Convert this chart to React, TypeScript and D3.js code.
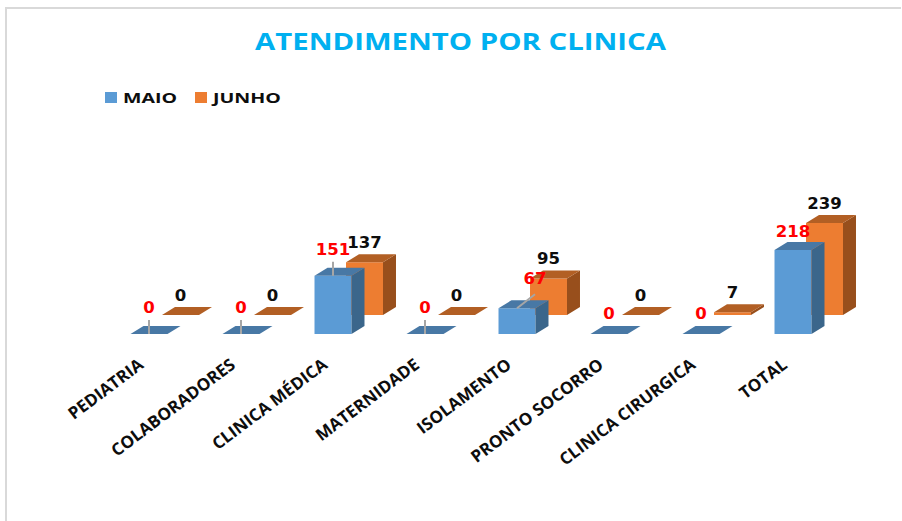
import { scaleBand, scaleLinear, path } from 'd3'

const clinics = ['PEDIATRIA', 'COLABORADORES', 'CLINICA MÉDICA', 'MATERNIDADE', 'ISOLAMENTO', 'PRONTO SOCORRO', 'CLINICA CIRURGICA', 'TOTAL']
const maio = [0, 0, 151, 0, 67, 0, 0, 218]
const junho = [0, 0, 137, 0, 95, 0, 7, 239]

const width = 902,
      height = 521,
      digitW = 11.5,
      depthX = 13,
      depthY = 8,
      maioBase = 334,
      junhoBase = 315,
      junhoShift = 31.5

// labels in the original were dragged by hand, so these get nudged
const maioNudge = {
  'PEDIATRIA': { dx: 0, dy: -21, leader: true },
  'COLABORADORES': { dx: 0, dy: -21, leader: true },
  'CLINICA MÉDICA': { dx: 0, dy: -21, leader: true },
  'MATERNIDADE': { dx: 0, dy: -21, leader: true },
  'ISOLAMENTO': { dx: 18, dy: -24, leader: true },
  'PRONTO SOCORRO': { dx: 0, dy: -15, leader: false },
  'CLINICA CIRURGICA': { dx: 0, dy: -15, leader: false },
  'TOTAL': { dx: 0, dy: -13, leader: false },
}

const xScale = scaleBand().domain(clinics).range([103, 839]).paddingInner(0.598).paddingOuter(0.299)
const hScale = scaleLinear().domain([0, 239]).range([0, 92])

const poly = (pts: number[][]) => {
  const p = path()
  pts.forEach(([x, y], i) => (i ? p.lineTo(x, y) : p.moveTo(x, y)))
  p.closePath()
  return p.toString()
}

const Bar = ({ x, base, value, front, side, top }) => {
  const w = xScale.bandwidth()
  const y = base - hScale(value)
  return (
    <g>
      {value > 0 && <path d={poly([[x, y], [x + w, y], [x + w, base], [x, base]])} fill={front} />}
      {value > 0 && <path d={poly([[x + w, y], [x + w + depthX, y - depthY], [x + w + depthX, base - depthY], [x + w, base]])} fill={side} />}
      <path d={poly([[x, y], [x + w, y], [x + w + depthX, y - depthY], [x + depthX, y - depthY]])} fill={top} />
    </g>
  )
}

const ValueLabel = ({ x, y, fill, value }) => (
  <text
    x={x}
    y={y}
    fill={fill}
    textAnchor='middle'
    fontFamily='DejaVu Sans'
    fontWeight='bold'
    fontSize={15}
    textLength={String(value).length * digitW}
    lengthAdjust='spacingAndGlyphs'
  >{value}</text>
)

export default function App() {
  const w = xScale.bandwidth()
  return (
    <svg width={width} height={height} style={{ position: 'absolute', left: 0, top: 0, background: '#fff' }}>
      <path d={`M901,8 H6 V${height}`} fill='none' stroke='#d9d9d9' strokeWidth={2} />

      <text
        x={460.5}
        y={50}
        textAnchor='middle'
        fill='#00b0f0'
        fontFamily='Open Sans'
        fontWeight='bold'
        fontSize={24}
        textLength={411}
        lengthAdjust='spacingAndGlyphs'
      >ATENDIMENTO POR CLINICA</text>

      <g className='legend' fontFamily='Open Sans' fontWeight='bold' fontSize={15} fill='#0d0d0d'>
        <rect x={105} y={92} width={12} height={11} fill='#5b9bd5' />
        <text x={123} y={103} textLength={54} lengthAdjust='spacingAndGlyphs'>MAIO</text>
        <rect x={195} y={92} width={12} height={11} fill='#ed7d31' />
        <text x={213} y={103} textLength={68} lengthAdjust='spacingAndGlyphs'>JUNHO</text>
      </g>

      <g className='junho'>
        {clinics.map((c, i) => (
          <Bar key={c} x={xScale(c) + junhoShift} base={junhoBase} value={junho[i]} front='#ed7d31' side='#984f1c' top='#b25f24' />
        ))}
      </g>
      <g className='maio'>
        {clinics.map((c, i) => (
          <Bar key={c} x={xScale(c)} base={maioBase} value={maio[i]} front='#5b9bd5' side='#3b668b' top='#4878a5' />
        ))}
      </g>

      <g className='leaders' stroke='#a6a6a6' strokeWidth={2}>
        {clinics.map((c, i) => {
          const n = maioNudge[c]
          if (!n.leader) return null
          const cx = xScale(c) + w / 2
          const top = maioBase - hScale(maio[i])
          return <line key={c} x1={cx} y1={top} x2={cx + n.dx} y2={top - 14} />
        })}
      </g>

      <g className='labels'>
        {clinics.map((c, i) => (
          <ValueLabel
            key={c}
            x={xScale(c) + junhoShift + w / 2}
            y={junhoBase - hScale(junho[i]) - 14.5}
            fill='#0d0d0d'
            value={junho[i]}
          />
        ))}
        {clinics.map((c, i) => (
          <ValueLabel
            key={c}
            x={xScale(c) + w / 2 + maioNudge[c].dx}
            y={maioBase - hScale(maio[i]) + maioNudge[c].dy}
            fill='#ff0000'
            value={maio[i]}
          />
        ))}
      </g>

      <g className='axis' fontFamily='Open Sans' fontWeight='bold' fontSize={17} fill='#0d0d0d'>
        {clinics.map(c => (
          <text
            key={c}
            textAnchor='end'
            transform={`translate(${xScale(c) + 14}, 367) rotate(-37)`}
          >{c}</text>
        ))}
      </g>
    </svg>
  )
}
